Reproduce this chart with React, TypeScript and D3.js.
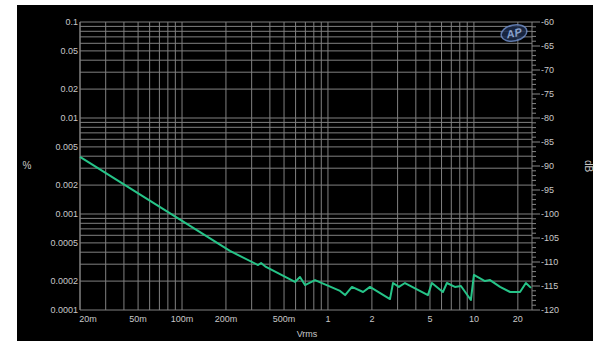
import React from "react";
import * as d3 from "d3";

// THD+N vs input level (Vrms -> %)
const vrms = [0.02, 0.213, 0.332, 0.348, 0.376, 0.594, 0.643, 0.696, 0.815, 1.21, 1.31, 1.46, 1.74, 1.94, 2.66, 2.79, 3.06, 3.37, 4.84, 5.15, 6.13, 6.53, 7.41, 8.15, 9.53, 10.0, 11.9, 12.9, 15.1, 17.7, 20.7, 22.7, 24.6];
const thdn = [0.00393, 0.000412, 0.000294, 0.000309, 0.000281, 0.000196, 0.000221, 0.000182, 0.000205, 0.000158, 0.000143, 0.000174, 0.000154, 0.000174, 0.00013, 0.000191, 0.000174, 0.000191, 0.000143, 0.000191, 0.000154, 0.000191, 0.000174, 0.000178, 0.000127, 0.000232, 0.0002, 0.000205, 0.000174, 0.000154, 0.000154, 0.000191, 0.00017];

const xTicks = [0.02, 0.05, 0.1, 0.2, 0.5, 1, 2, 5, 10, 20];
const xTickLabels = ["20m", "50m", "100m", "200m", "500m", "1", "2", "5", "10", "20"];
const yTicks = [0.1, 0.05, 0.02, 0.01, 0.005, 0.002, 0.001, 0.0005, 0.0002, 0.0001];
const yTickLabels = ["0.1", "0.05", "0.02", "0.01", "0.005", "0.002", "0.001", "0.0005", "0.0002", "0.0001"];
const dbTicks = [-60, -65, -70, -75, -80, -85, -90, -95, -100, -105, -110, -115, -120];

const W = 600;
const H = 341;
const m = { left: 80, right: 532, top: 22, bottom: 310 };

export default function App() {
  const x = d3.scaleLog().domain([0.02, 25]).range([m.left, m.right]);
  const y = d3.scaleLog().domain([0.0001, 0.1]).range([m.bottom, m.top]);
  const yDb = d3.scaleLinear().domain([-120, -60]).range([m.bottom, m.top]);

  // grid at every 1..9 x 10^n
  const xGrid: number[] = [];
  for (let e = -2; e <= 1; e++) {
    for (let k = 1; k <= 9; k++) {
      const v = k * Math.pow(10, e);
      if (v >= 0.02 - 1e-9 && v <= 25) xGrid.push(v);
    }
  }
  const yGrid: number[] = [];
  for (let e = -4; e <= -1; e++) {
    for (let k = 1; k <= 9; k++) {
      const v = k * Math.pow(10, e);
      if (v <= 0.1 + 1e-12) yGrid.push(v);
    }
  }
  const dbMinor = d3.range(-120, -59, 1);

  const pts = vrms.map((v, i) => [v, thdn[i]] as [number, number]);
  const line = d3.line<[number, number]>().x((d) => x(d[0])).y((d) => y(d[1]));

  const font = "'Liberation Sans', Arial, sans-serif";
  const lbl = "#c8c8c8";

  return (
    <svg width={W} height={H} style={{ position: "absolute", left: 0, top: 0 }} fontFamily={font}>
      <rect x={0} y={0} width={W} height={H} fill="#fff" />
      <rect x={17} y={5} width={576} height={H - 5} fill="#000" />

      <g stroke="#808080" strokeWidth={1}>
        {xGrid.map((v) => (
          <line key={"xg" + v} x1={x(v)} x2={x(v)} y1={m.top} y2={m.bottom} />
        ))}
        {yGrid.map((v) => (
          <line key={"yg" + v} x1={m.left} x2={m.right} y1={y(v)} y2={y(v)} />
        ))}
        <line x1={m.right} x2={m.right} y1={m.top} y2={m.bottom} />
        <line x1={m.left} x2={m.left} y1={m.top} y2={m.bottom} />
      </g>

      <g stroke="#888" strokeWidth={1}>
        {dbMinor.map((d) => (
          <line key={"dm" + d} x1={m.right} x2={m.right + (d % 5 === 0 ? 8 : 4)} y1={yDb(d)} y2={yDb(d)} />
        ))}
      </g>

      <path d={line(pts) || ""} fill="none" stroke="#26c488" strokeWidth={2} strokeLinejoin="round" />

      {/* AP logo */}
      <g transform="translate(514,33) rotate(-12)" opacity={0.85}>
        <ellipse rx={13} ry={8} fill="#1c2b4a" stroke="#6d8cc8" strokeWidth={1.5} />
        <text x={0} y={4} textAnchor="middle" fontSize={11} fontWeight="bold" fontStyle="italic" fill="#9db8e8">AP</text>
      </g>

      <g fontSize={9} fill={lbl}>
        {yTicks.map((v, i) => (
          <text key={"yt" + v} x={m.left - 2} y={y(v) + 3} textAnchor="end">{yTickLabels[i]}</text>
        ))}
        {dbTicks.map((d) => (
          <text key={"dt" + d} x={m.right + 9} y={yDb(d) + 3} textAnchor="start">{d}</text>
        ))}
        {xTicks.map((v, i) => (
          <text key={"xt" + v} x={x(v) + (i === 0 ? 8 : 0)} y={m.bottom + 12} textAnchor="middle">{xTickLabels[i]}</text>
        ))}
        <text x={27} y={169} textAnchor="middle" fontSize={10}>%</text>
        <text transform="translate(585,166) rotate(90)" textAnchor="middle" fontSize={10}>dB</text>
        <text x={307} y={337} textAnchor="middle" fontSize={9}>Vrms</text>
      </g>
    </svg>
  );
}
